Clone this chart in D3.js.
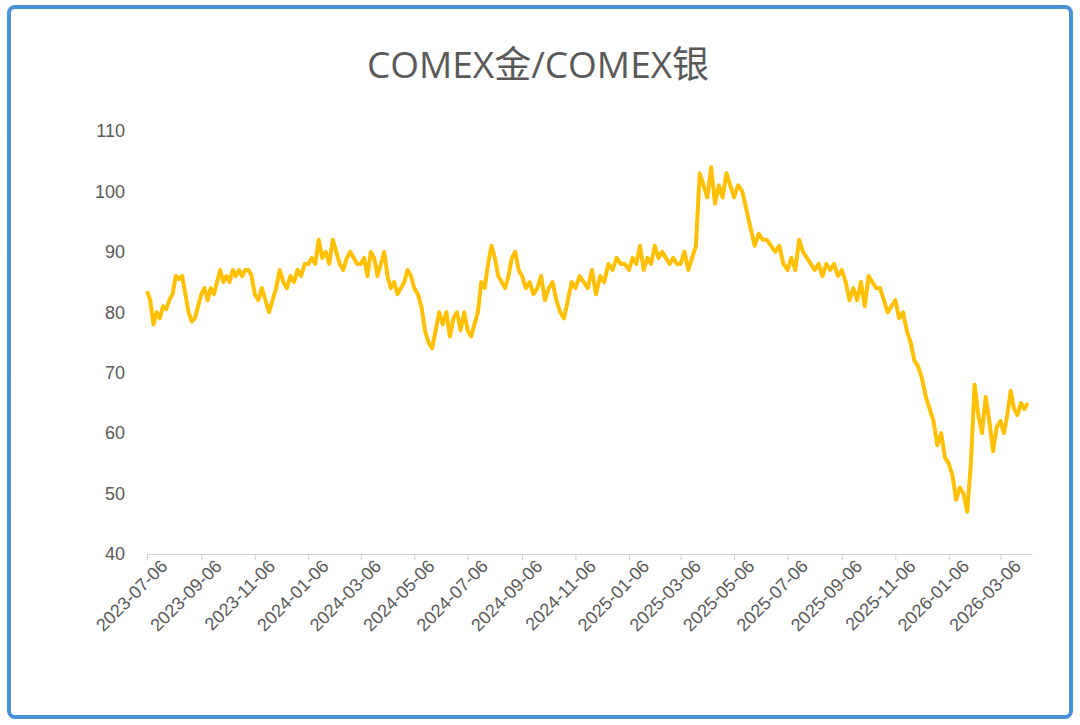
<!DOCTYPE html>
<html><head><meta charset="utf-8">
<script src="https://cdn.jsdelivr.net/npm/d3@7/dist/d3.min.js"></script>
<style>body{margin:0;background:#fff;font-family:"Open Sans","Noto Sans CJK SC",sans-serif}</style>
</head><body>
<svg id="c" width="1080" height="725"></svg>
<script>
const title = "COMEX金/COMEX银";
const tickLabels = ["2023-07-06","2023-09-06","2023-11-06","2024-01-06","2024-03-06","2024-05-06","2024-07-06","2024-09-06","2024-11-06","2025-01-06","2025-03-06","2025-05-06","2025-07-06","2025-09-06","2025-11-06","2026-01-06","2026-03-06"];
const yTicks = [40,50,60,70,80,90,100,110];
const segStarts = ["2023-07-06","2023-09-06","2023-11-06","2024-01-06","2024-03-06","2024-05-06","2024-07-06","2024-09-06","2024-11-06","2025-01-06","2025-03-06","2025-05-06","2025-07-06","2025-09-06","2025-11-06","2026-01-06","2026-03-06","2026-04-10"];
const segValues = [
 [83.5,82,78,80,79,81,80.5,82,83,86,85.5,86,83,80,78.5,79,81],
 [83,84,82,84,83,85,87,85,86,85,87,86,87,86,87,87,86],
 [83,82,84,82,80,82,84,87,85,84,86,85,87,86,88],
 [88,89,88,92,89,90,88,92,90,88,87,89,90,89,88],
 [88,89,86,90,89,86,88,90,86,84,85,83,84,85,87,86],
 [84,83,81,77,75,74,77,80,78,80,76,79,80,77,80],
 [77,76,78,80,85,84,88,91,89,86,85,84,86,89,90,87],
 [86,84,85,83,84,86,82,84,85,82,80,79,82,85],
 [84,86,85,84,87,83,86,85,88,87,89,88,88],
 [87,89,88,91,87,89,88,91,89,90,89,88,89,88],
 [88,90,87,89,91,103,101,99,104,98,101,99,103,101],
 [99,101,100,97,94,91,93,92,92,91,90,91,88],
 [87,89,87,92,90,89,88,87,88,86,88,87,88,86],
 [87,85,82,84,82,85,81,86,85,84,84,82,80,81],
 [82,79,80,77,75,72,71,69,66,64,62,58,60,56],
 [55,53,49,51,50,47,55,68,63,60,66,62,57,61],
 [62,60,63,67,64,63,65,64,65]
];
const data = [];
const parse = d3.timeParse("%Y-%m-%d");
segValues.forEach((vals,i)=>{
  const a = parse(segStarts[i]), b = parse(segStarts[i+1]);
  vals.forEach((v,j)=>data.push({d:new Date(+a + (b-a)*j/vals.length), v}));
});
const svg = d3.select("#c");
svg.append("rect").attr("x",9).attr("y",7).attr("width",1062).attr("height",710).attr("rx",6)
  .attr("fill","#fff").attr("stroke","#4a90d9").attr("stroke-width",4);
svg.append("text").attr("x",538).attr("y",78).attr("text-anchor","middle")
  .attr("font-size",37).attr("fill","#595959").text(title);
const x = d3.scaleTime().domain([parse("2023-07-06"), parse("2026-04-11")]).range([147,1032]);
const y = d3.scaleLinear().domain([40,110]).range([554,131]);
const xa = svg.append("g").attr("transform","translate(0,554)")
  .call(d3.axisBottom(x).tickValues(tickLabels.map(parse)).tickFormat(d3.timeFormat("%Y-%m-%d")).tickSize(6).tickSizeOuter(0));
xa.select(".domain").attr("stroke","#d0d0d0");
xa.selectAll(".tick line").attr("stroke","#d0d0d0");
xa.selectAll("text").attr("fill","#595959").attr("font-size",18)
  .attr("text-anchor","end").attr("dx","0.3em").attr("dy","0.85em").attr("transform","rotate(-45)");
const ya = svg.append("g").attr("transform","translate(128,0)")
  .call(d3.axisLeft(y).tickValues(yTicks).tickSize(0));
ya.select(".domain").remove();
ya.selectAll("text").attr("fill","#595959").attr("font-size",18);
svg.append("path").datum(data).attr("fill","none").attr("stroke","#FFC000").attr("stroke-width",4)
  .attr("stroke-linejoin","round")
  .attr("d",d3.line().x(d=>x(d.d)).y(d=>y(d.v)));
</script>
</body></html>
